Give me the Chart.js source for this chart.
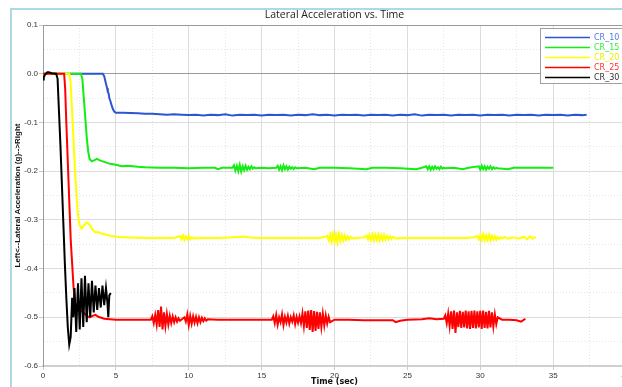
<!DOCTYPE html>
<html>
<head>
<meta charset="utf-8">
<script src="https://cdn.jsdelivr.net/npm/chart.js@4.4.1/dist/chart.umd.min.js"></script>
<style>
  html, body { margin: 0; padding: 0; background: #fff; overflow: hidden; width: 622px; height: 387px; }
  #frame { position: absolute; left: 10px; top: 8px; width: 700px; height: 400px;
           border-left: 2px solid #add8e6; border-top: 2px solid #add8e6; }
  #chart { position: absolute; left: 13px; top: 0; }
</style>
</head>
<body>
<div id="frame"></div>
<canvas id="chart" width="623" height="387"></canvas>
<script>
// lateral acceleration (g) vs time (sec)
const seriesNames = ['CR_10', 'CR_15', 'CR_20', 'CR_25', 'CR_30'];

const cr10Points = [
  [0, 0], [1, 0], [2, 0], [3, 0], [4, 0], [4.1, 0], [4.2, -0.005], [4.3, -0.018],
  [4.4, -0.03], [4.45, -0.038], [4.5, -0.04], [4.55, -0.05], [4.6, -0.054], [4.7, -0.064],
  [4.8, -0.073], [4.9, -0.078], [5, -0.08], [5.5, -0.08], [6, -0.0805], [6.5, -0.081],
  [7, -0.082], [7.5, -0.082], [8, -0.083], [8.5, -0.084], [9, -0.083], [9.5, -0.084],
  [10, -0.085], [10.5, -0.084], [11, -0.086], [11.5, -0.084], [12, -0.085], [12.5, -0.083],
  [13, -0.086], [13.5, -0.084], [14, -0.085], [14.5, -0.084], [15, -0.086], [15.5, -0.084],
  [16, -0.085], [16.5, -0.084], [17, -0.086], [17.5, -0.084], [18, -0.085], [18.5, -0.083],
  [19, -0.085], [19.5, -0.084], [20, -0.086], [20.5, -0.084], [21, -0.085], [21.5, -0.084],
  [22, -0.086], [22.5, -0.084], [23, -0.085], [23.5, -0.084], [24, -0.086], [24.5, -0.084],
  [25, -0.085], [25.5, -0.083], [26, -0.086], [26.5, -0.084], [27, -0.085], [27.5, -0.084],
  [28, -0.086], [28.5, -0.084], [29, -0.085], [29.5, -0.084], [30, -0.086], [30.5, -0.084],
  [31, -0.085], [31.5, -0.084], [32, -0.086], [32.5, -0.084], [33, -0.085], [33.5, -0.084],
  [34, -0.086], [34.5, -0.084], [35, -0.085], [35.5, -0.084], [36, -0.086], [36.5, -0.084],
  [37, -0.085], [37.3, -0.084]
];

const cr15Points = [
  [0, 0], [1, 0], [2, 0], [2.6, 0], [2.7, -0.01], [2.8, -0.05], [2.9, -0.09], [3, -0.13],
  [3.1, -0.16], [3.2, -0.175], [3.35, -0.18], [3.5, -0.178], [3.7, -0.175], [3.9, -0.178],
  [4.2, -0.181], [4.6, -0.185], [5, -0.187], [5.4, -0.19], [5.8, -0.189], [6.5, -0.191],
  [7, -0.192], [8, -0.193], [9, -0.193], [10, -0.194], [11, -0.193], [11.8, -0.193],
  [12, -0.196], [12.3, -0.193], [13, -0.193],
  [13.1, -0.188], [13.2, -0.199], [13.3, -0.189], [13.4, -0.2], [13.5, -0.187], [13.6, -0.201],
  [13.7, -0.19], [13.8, -0.198], [13.9, -0.189], [14, -0.197], [14.1, -0.191], [14.2, -0.196],
  [14.3, -0.19], [14.4, -0.195], [14.5, -0.192], [14.6, -0.194],
  [15, -0.193], [15.5, -0.194], [16, -0.193],
  [16.1, -0.189], [16.2, -0.197], [16.3, -0.19], [16.4, -0.198], [16.5, -0.188], [16.6, -0.196],
  [16.7, -0.19], [16.8, -0.197], [16.9, -0.191], [17, -0.195], [17.1, -0.192], [17.2, -0.196],
  [17.3, -0.192], [17.4, -0.194],
  [18, -0.193], [18.6, -0.196], [19, -0.193], [20, -0.193], [21, -0.194], [22.2, -0.196],
  [22.6, -0.193], [23.5, -0.193], [24.5, -0.194], [25.6, -0.196], [26, -0.193],
  [26.3, -0.19], [26.4, -0.196], [26.5, -0.19], [26.6, -0.197], [26.7, -0.191], [26.8, -0.196],
  [26.9, -0.19], [27, -0.195], [27.1, -0.192], [27.2, -0.196], [27.3, -0.191], [27.4, -0.195],
  [27.5, -0.193], [27.6, -0.194],
  [28.2, -0.193], [28.8, -0.196], [29.2, -0.193],
  [29.9, -0.19], [30, -0.197], [30.1, -0.189], [30.2, -0.196], [30.3, -0.19], [30.4, -0.197],
  [30.5, -0.191], [30.6, -0.195], [30.7, -0.19], [30.8, -0.196], [30.9, -0.192], [31, -0.195],
  [31.1, -0.193], [31.2, -0.194],
  [31.9, -0.196], [32.3, -0.193], [33, -0.193], [34, -0.193], [35, -0.193]
];

const cr20Points = [
  [0, 0], [1, 0], [1.8, 0], [1.9, -0.02], [2, -0.08], [2.1, -0.14], [2.2, -0.2], [2.3, -0.25],
  [2.4, -0.29], [2.5, -0.31], [2.65, -0.318], [2.8, -0.312], [3, -0.305], [3.2, -0.31],
  [3.4, -0.32], [3.6, -0.326], [3.8, -0.325], [4, -0.328], [4.3, -0.33], [4.7, -0.333],
  [5.2, -0.335], [6, -0.336], [7, -0.337], [8, -0.337], [9, -0.337],
  [9.4, -0.333], [9.5, -0.34], [9.6, -0.332], [9.7, -0.341], [9.8, -0.334], [9.9, -0.339],
  [10, -0.333], [10.1, -0.34], [10.2, -0.336], [10.3, -0.338],
  [11, -0.337], [12, -0.337], [13.5, -0.335], [13.8, -0.334], [14.2, -0.336], [15, -0.337],
  [16, -0.337], [17, -0.337], [18, -0.337], [19, -0.337],
  [19.5, -0.333], [19.6, -0.342], [19.7, -0.33], [19.8, -0.344], [19.9, -0.329], [20, -0.345],
  [20.1, -0.33], [20.2, -0.346], [20.3, -0.329], [20.4, -0.343], [20.5, -0.331], [20.6, -0.342],
  [20.7, -0.332], [20.8, -0.341], [20.9, -0.334], [21, -0.34], [21.1, -0.335], [21.2, -0.338],
  [21.6, -0.337], [22, -0.336],
  [22.2, -0.332], [22.3, -0.34], [22.4, -0.331], [22.5, -0.341], [22.6, -0.33], [22.7, -0.342],
  [22.8, -0.331], [22.9, -0.341], [23, -0.33], [23.1, -0.342], [23.2, -0.332], [23.3, -0.341],
  [23.4, -0.331], [23.5, -0.34], [23.6, -0.333], [23.7, -0.34], [23.8, -0.334], [23.9, -0.339],
  [24, -0.335], [24.2, -0.338],
  [25, -0.337], [26, -0.337], [27, -0.337], [28, -0.337], [29, -0.337], [29.5, -0.336],
  [29.8, -0.333], [29.9, -0.34], [30, -0.331], [30.1, -0.341], [30.2, -0.33], [30.3, -0.342],
  [30.4, -0.332], [30.5, -0.341], [30.6, -0.331], [30.7, -0.342], [30.8, -0.333], [30.9, -0.34],
  [31, -0.334], [31.1, -0.341], [31.2, -0.335], [31.3, -0.339], [31.4, -0.336], [31.5, -0.338],
  [31.7, -0.335], [31.9, -0.339], [32, -0.337],
  [32.3, -0.336], [32.6, -0.338], [33, -0.335], [33.2, -0.34], [33.4, -0.334], [33.6, -0.339],
  [33.8, -0.335]
];

const cr25Points = [
  [0, 0], [1, 0], [1.45, 0], [1.52, -0.03], [1.6, -0.1], [1.75, -0.22], [1.9, -0.34],
  [2, -0.39], [2.1, -0.44], [2.2, -0.47], [2.3, -0.48], [2.5, -0.485], [2.8, -0.49],
  [3, -0.497], [3.2, -0.5], [3.4, -0.497], [3.6, -0.495], [3.8, -0.499], [4.2, -0.503],
  [4.6, -0.504], [5, -0.505], [6, -0.505], [7, -0.505], [7.4, -0.505],
  [7.5, -0.498], [7.6, -0.512], [7.7, -0.495], [7.8, -0.515], [7.9, -0.485], [8, -0.52],
  [8.1, -0.478], [8.2, -0.525], [8.3, -0.49], [8.4, -0.518], [8.5, -0.493], [8.6, -0.515],
  [8.7, -0.497], [8.8, -0.512], [8.9, -0.498], [9, -0.51], [9.1, -0.5], [9.2, -0.509],
  [9.3, -0.502], [9.4, -0.507],
  [9.7, -0.5], [9.8, -0.509], [9.9, -0.494], [10, -0.516], [10.1, -0.497], [10.2, -0.513],
  [10.3, -0.498], [10.4, -0.511], [10.5, -0.499], [10.6, -0.512], [10.7, -0.5], [10.8, -0.51],
  [10.9, -0.501], [11, -0.508], [11.1, -0.502], [11.2, -0.507], [11.3, -0.504],
  [12, -0.505], [13, -0.505], [14, -0.505], [15, -0.505], [15.7, -0.505],
  [15.8, -0.498], [15.9, -0.512], [16, -0.495], [16.1, -0.515], [16.2, -0.5], [16.3, -0.51],
  [16.4, -0.494], [16.5, -0.516], [16.6, -0.499], [16.7, -0.511], [16.8, -0.497], [16.9, -0.513],
  [17, -0.5], [17.1, -0.509], [17.2, -0.496], [17.3, -0.514], [17.4, -0.499], [17.5, -0.511],
  [17.6, -0.498], [17.7, -0.512],
  [17.8, -0.492], [17.9, -0.518], [18, -0.488], [18.1, -0.522], [18.2, -0.486], [18.3, -0.526],
  [18.4, -0.485], [18.5, -0.53], [18.6, -0.487], [18.7, -0.528], [18.8, -0.489], [18.9, -0.524],
  [19, -0.49], [19.1, -0.52], [19.2, -0.493], [19.3, -0.517], [19.4, -0.496], [19.5, -0.513],
  [19.6, -0.499], [19.7, -0.51],
  [20, -0.505], [21, -0.505], [22, -0.506], [23, -0.506], [24, -0.506], [24.2, -0.51],
  [24.5, -0.507], [25, -0.505], [26, -0.504], [26.5, -0.502], [27, -0.504], [27.5, -0.503],
  [27.6, -0.496], [27.7, -0.512], [27.8, -0.492], [27.9, -0.518], [28, -0.488], [28.1, -0.524],
  [28.2, -0.486], [28.3, -0.532], [28.4, -0.49], [28.5, -0.52], [28.6, -0.487], [28.7, -0.522],
  [28.8, -0.489], [28.9, -0.521], [29, -0.486], [29.1, -0.523], [29.2, -0.488], [29.3, -0.524],
  [29.4, -0.487], [29.5, -0.522], [29.6, -0.486], [29.7, -0.523], [29.8, -0.488], [29.9, -0.521],
  [30, -0.487], [30.1, -0.524], [30.2, -0.486], [30.3, -0.522], [30.4, -0.489], [30.5, -0.523],
  [30.6, -0.487], [30.7, -0.521], [30.8, -0.49], [30.9, -0.519], [31, -0.494], [31.1, -0.514],
  [31.2, -0.5],
  [31.5, -0.505], [32, -0.505], [32.5, -0.506], [32.8, -0.509], [33.1, -0.503]
];

const cr30Points = [
  [0, -0.012], [0.05, -0.008], [0.1, -0.004], [0.2, 0], [0.3, 0.003], [0.4, 0.003], [0.6, 0.001],
  [0.9, 0], [1, -0.01], [1.1, -0.08], [1.2, -0.15], [1.3, -0.23], [1.4, -0.31], [1.5, -0.39],
  [1.6, -0.46], [1.7, -0.52], [1.8, -0.556], [1.9, -0.54], [2, -0.46], [2.08, -0.5],
  [2.16, -0.44], [2.28, -0.53], [2.4, -0.43], [2.52, -0.525], [2.64, -0.42], [2.76, -0.52],
  [2.88, -0.415], [3, -0.51], [3.12, -0.43], [3.24, -0.5], [3.36, -0.425], [3.48, -0.49],
  [3.6, -0.435], [3.72, -0.485], [3.84, -0.44], [3.96, -0.48], [4.08, -0.435], [4.2, -0.475],
  [4.32, -0.44], [4.42, -0.47], [4.48, -0.5], [4.55, -0.455], [4.65, -0.45]
];

const seriesPoints = [cr10Points, cr15Points, cr20Points, cr25Points, cr30Points];
const seriesColors = ['#2b56d0', '#11ee11', '#ffff00', '#ff0000', '#000000'];
const legendTextColors = ['#4f7be0', '#33ee33', '#eeee00', '#ff3333', '#333333'];

const xMajor = v => Math.abs(v % 5) < 1e-6;
const yMajor = v => Math.round(v * 100) % 10 === 0;

// legend box drawn inside the plot, top right
const insideLegend = {
  id: 'insideLegend',
  afterDraw(chart) {
    const { ctx, chartArea } = chart;
    const x = chartArea.right - 86, y = chartArea.top + 3;
    ctx.save();
    ctx.fillStyle = '#fff';
    ctx.fillRect(x, y, 96, 55);
    ctx.strokeStyle = '#a0a0a0';
    ctx.lineWidth = 1;
    ctx.strokeRect(x + 0.5, y + 0.5, 96, 55);
    ctx.font = '8px "DejaVu Sans"';
    ctx.textBaseline = 'middle';
    chart.data.datasets.forEach((ds, i) => {
      const ry = y + 9.5 + i * 10;
      ctx.strokeStyle = ds.borderColor;
      ctx.lineWidth = 1.5;
      ctx.beginPath();
      ctx.moveTo(x + 5, ry);
      ctx.lineTo(x + 50, ry);
      ctx.stroke();
      ctx.fillStyle = legendTextColors[i];
      ctx.fillText(ds.label, x + 54, ry);
    });
    ctx.restore();
  }
};

const datasets = seriesNames.map((name, i) => ({
  label: name,
  data: seriesPoints[i].map(p => ({ x: p[0], y: p[1] })),
  borderColor: seriesColors[i],
  borderWidth: 2,
  pointRadius: 0,
  tension: 0,
  fill: false,
  order: seriesNames.length - 1 - i
}));

new Chart(document.getElementById('chart'), {
  type: 'line',
  data: { datasets: datasets },
  plugins: [insideLegend],
  options: {
    responsive: false,
    animation: false,
    layout: { padding: { right: 10 } },
    plugins: {
      legend: { display: false },
      tooltip: { enabled: false },
      title: {
        display: true,
        fullSize: false,
        text: 'Lateral Acceleration vs. Time',
        color: '#222',
        font: { family: 'Open Sans', size: 10.5, weight: 'normal', lineHeight: 1.2 },
        padding: { top: 8.7, bottom: 3.7 }
      }
    },
    scales: {
      x: {
        type: 'linear',
        min: 0,
        max: 40,
        afterFit: s => { s.height = 21; },
        ticks: {
          stepSize: 2.5,
          autoSkip: false,
          maxRotation: 0,
          padding: 1,
          color: '#333',
          font: { family: 'Liberation Sans', size: 8 },
          callback: v => xMajor(v) ? String(v) : ''
        },
        grid: {
          color: c => xMajor(c.tick.value) ? '#dcdcdc' : '#e6e6e6',
          tickColor: c => xMajor(c.tick.value) ? '#cccccc' : 'rgba(0,0,0,0)',
          tickLength: 4
        },
        border: {
          color: '#cfcfcf',
          width: 2,
          dash: c => (c.tick && !xMajor(c.tick.value)) ? [1, 2] : []
        },
        title: {
          display: true,
          text: 'Time (sec)',
          color: '#111',
          padding: 0,
          font: { family: 'DejaVu Sans', size: 8, weight: 'bold', lineHeight: 1.2 }
        }
      },
      y: {
        min: -0.6,
        max: 0.1,
        afterFit: s => { s.width = 30; },
        ticks: {
          stepSize: 0.05,
          autoSkip: false,
          padding: 1,
          color: '#333',
          font: { family: 'Liberation Sans', size: 8 },
          callback: v => yMajor(v) ? (Math.abs(v) < 1e-9 ? '0.0' : v.toFixed(1)) : ''
        },
        grid: {
          color: c => {
            const v = c.tick.value;
            if (Math.abs(v) < 1e-9 || Math.abs(v - 0.1) < 1e-9) return '#9a9a9a';
            return yMajor(v) ? '#dcdcdc' : '#e6e6e6';
          },
          tickColor: c => yMajor(c.tick.value) ? '#c8c8c8' : 'rgba(0,0,0,0)',
          tickLength: 4
        },
        border: {
          color: '#9a9a9a',
          width: 1,
          dash: c => (c.tick && !yMajor(c.tick.value)) ? [1, 2] : []
        },
        title: {
          display: true,
          text: 'Left<--Lateral Acceleration (g)-->Right',
          color: '#111',
          padding: { top: 0, bottom: 0 },
          font: { family: 'Liberation Sans', size: 8, weight: 'bold', lineHeight: 1.2 }
        }
      }
    }
  }
});
</script>
</body>
</html>
